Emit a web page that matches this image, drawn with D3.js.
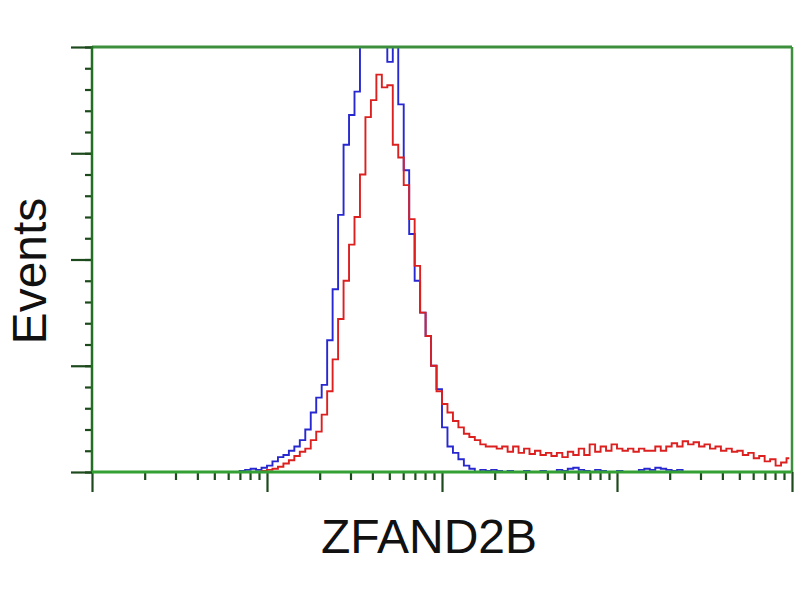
<!DOCTYPE html>
<html>
<head>
<meta charset="utf-8">
<script src="https://cdn.jsdelivr.net/npm/d3@7"></script>
<style>
	body { margin: 0; background: #fff; }
	svg { display: block; }
	.label { font-family: 'Liberation Sans', Arial, sans-serif; font-size: 48px; fill: #111; }
</style>
</head>
<body>
<div class="graphic"></div>
<script>

// histogram: 128 channels spread over a 4-decade log axis (10^0 .. 10^4)
var binCount = 128;
var xDecades = [1, 10, 100, 1000, 10000];
var yMajorTicks = [0, 50, 100, 150, 200];

// counts per channel (channels 0..127)
var blueCounts = [
	0,0,0,0,0,0,0,0,0,0, 0,0,0,0,0,0,0,0,0,0, 0,0,0,0,0,0,0,0.5,1,1.5,
	1,2,3,5,7,8,10,12,15,20, 28,35,41,62,86,121,154,168,179,205,
	215,220,225,210,193,205,173,142,112,90, 75,64,50,39,21,12,9,6,3,1.5,
	0,1,0.5,1,0.5,0,0.5,0,0,0.5, 0,0,0.5,0,0,1,0.5,1.5,2,1,
	0.5,0,1,0.5,0,0,0.5,0,0,0, 1,1.5,1,2,1.5,1,0.5,1,0,0,
	0,0,0,0,0,0,0,0,0,0, 0,0,0,0,0,0,0,0
];

var redCounts = [
	0,0,0,0,0,0,0,0,0,0, 0,0,0,0,0,0,0,0,0,0, 0,0,0,0,0,0,0,0,0,0,
	0,0.5,1,1.5,2.5,4,5.5,7.5,9.5,11, 15,19,27,38,53,72,90,107,120,140,
	167,175,187,181,182,154,148,135,119,97, 75,64,50,38,32,28,24,21,18,16.5,
	15,13,12,12,11,12,9.5,12,9,11, 8.5,10,8,9,7.5,9,7,9.5,8,11,
	8,13,9.5,12,10,13,11,10,11,9.5, 11,10,10,12,10,12,13.5,12,14.5,13,
	14,12,13,11,12,10,11,9.5,10,8, 9,6.5,7.5,5,6,3,4.5,6.5
];

var width = 800, height = 600;
var plot = { left: 92, right: 792, top: 47, bottom: 472 };

var svg = d3.select('.graphic').append('svg')
	.attr('width', width)
	.attr('height', height);

var xLog = d3.scaleLog().domain([1, 10000]).range([plot.left, plot.right]);
var xBin = d3.scaleLinear().domain([0, binCount]).range([plot.left, plot.right]);
var y = d3.scaleLinear().domain([0, 200]).range([plot.bottom, plot.top]);

svg.append('clipPath').attr('id', 'plotClip')
	.append('rect')
	.attr('x', plot.left).attr('y', plot.top)
	.attr('width', plot.right - plot.left)
	.attr('height', plot.bottom - plot.top);

// frame
var frame = svg.append('g').attr('class', 'frame');
frame.append('line').attr('x1', plot.left).attr('x2', plot.right).attr('y1', plot.top).attr('y2', plot.top)
	.attr('stroke', '#3d8f3d').attr('stroke-width', 3);
frame.append('line').attr('x1', plot.right).attr('x2', plot.right).attr('y1', plot.top).attr('y2', plot.bottom)
	.attr('stroke', '#3d8f3d').attr('stroke-width', 2.5);

// y axis: majors every 50, minors every 10
var yMinor = d3.range(0, 201, 10);
var yAxisMinor = d3.axisLeft(y).tickValues(yMinor).tickSize(7).tickFormat('');
var yAxisMajor = d3.axisLeft(y).tickValues(yMajorTicks).tickSize(21).tickFormat('');

var yg1 = svg.append('g').attr('transform', 'translate(' + plot.left + ',0)').call(yAxisMinor);
var yg2 = svg.append('g').attr('transform', 'translate(' + plot.left + ',0)').call(yAxisMajor);

// x axis: decades and 2..9 minors
var xMinor = [];
xDecades.slice(0, -1).forEach(function (d) {
	for (var k = 2; k < 10; k++) xMinor.push(d * k);
});
var xAxisMinor = d3.axisBottom(xLog).tickValues(xMinor).tickSize(8).tickFormat('');
var xAxisMajor = d3.axisBottom(xLog).tickValues(xDecades).tickSize(20).tickFormat('');

var xg1 = svg.append('g').attr('transform', 'translate(0,' + plot.bottom + ')').call(xAxisMinor);
var xg2 = svg.append('g').attr('transform', 'translate(0,' + plot.bottom + ')').call(xAxisMajor);

[yg1, yg2, xg1, xg2].forEach(function (g) {
	g.selectAll('.tick line').attr('stroke', '#1d4a1d').attr('stroke-width', 2.2);
	g.select('.domain').remove();
});

// histograms as step lines
var line = d3.line()
	.x(function (d, i) { return xBin(i + 0.5); })
	.y(function (d) { return y(d); })
	.curve(d3.curveStep);

var curves = svg.append('g').attr('clip-path', 'url(#plotClip)');
curves.append('path').datum(blueCounts)
	.attr('d', line)
	.attr('fill', 'none')
	.attr('stroke', '#2828d0')
	.attr('stroke-width', 1.9);
curves.append('path').datum(redCounts)
	.attr('d', line)
	.attr('fill', 'none')
	.attr('stroke', '#dc2020')
	.attr('stroke-width', 1.9);

// axis lines on top
frame.raise();
svg.append('line').attr('x1', plot.left).attr('x2', plot.left).attr('y1', plot.top - 1).attr('y2', plot.bottom)
	.attr('stroke', '#226e22').attr('stroke-width', 2.5);
svg.append('line').attr('x1', plot.left).attr('x2', plot.right).attr('y1', plot.bottom).attr('y2', plot.bottom)
	.attr('stroke', '#33a033').attr('stroke-width', 3);

// labels
svg.append('text').attr('class', 'label')
	.attr('text-anchor', 'middle')
	.attr('transform', 'translate(46,271) rotate(-90)')
	.text('Events');
svg.append('text').attr('class', 'label')
	.attr('text-anchor', 'middle')
	.attr('x', 429).attr('y', 553)
	.text('ZFAND2B');

</script>
</body>
</html>
